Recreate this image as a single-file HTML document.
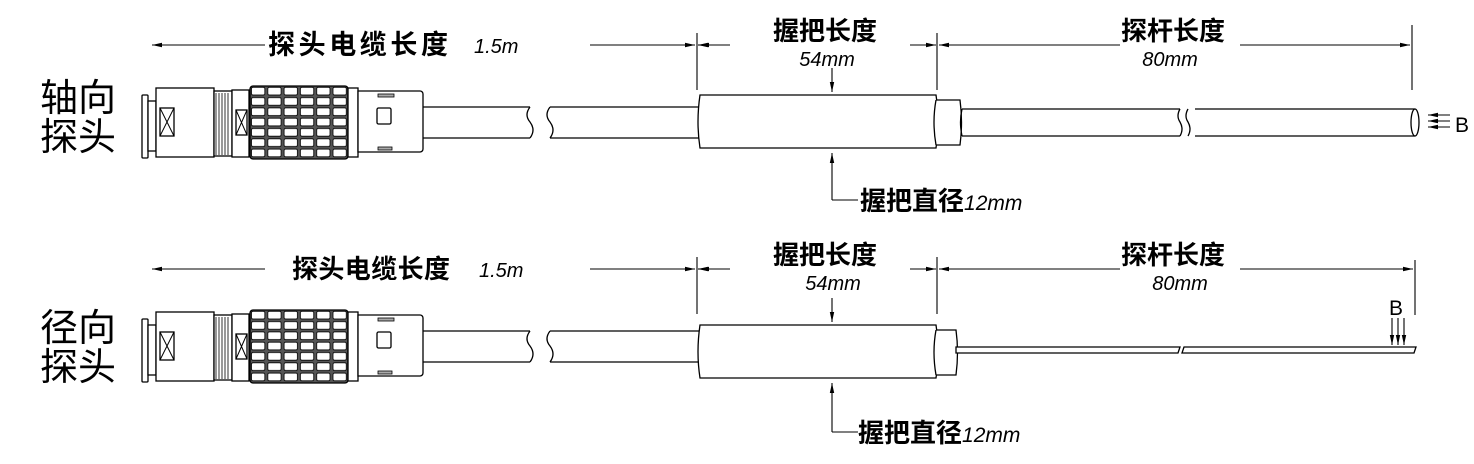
<!DOCTYPE html>
<html><head><meta charset="utf-8"><style>
html,body{margin:0;padding:0;background:#fff;}
svg{display:block}
.t{font-family:"Liberation Sans","Noto Sans CJK SC",sans-serif;}
</style></head><body>
<svg width="1474" height="464" viewBox="0 0 1474 464" xmlns="http://www.w3.org/2000/svg">
<defs>
<pattern id="kn" x="250" y="86" width="16.3" height="10.3" patternUnits="userSpaceOnUse">
<rect width="16.3" height="10.3" fill="#555"/>
<rect x="1.5" y="1.3" width="13.3" height="7.7" rx="1.5" fill="#fff" stroke="#000" stroke-width="0.8"/>
</pattern>
<marker id="ar" markerWidth="10" markerHeight="6" refX="10" refY="3" orient="auto" markerUnits="userSpaceOnUse"><path d="M0,0.8 L10,3 L0,5.2z" fill="#000"/></marker>
<g id="conn" fill="#fff" stroke="#000" stroke-width="1.3">
<rect x="142" y="95" width="6" height="63" rx="1"/>
<rect x="148" y="101" width="8" height="50"/>
<rect x="156" y="88" width="58" height="69"/>
<rect x="160" y="108" width="14" height="28"/>
<path d="M160 108 L174 136 M174 108 L160 136" stroke-width="1"/>
<rect x="214" y="91" width="18" height="65"/>
<path d="M216 93v62M219 93v62M222 93v62M225 93v62M228 93v62" stroke-width="0.8"/>
<rect x="232" y="90" width="17" height="67"/>
<rect x="236" y="110" width="11" height="25"/>
<path d="M236 110 L247 135 M247 110 L236 135" stroke-width="1"/>
<rect x="250" y="86" width="98" height="73" rx="3" fill="url(#kn)"/>
<rect x="348" y="88" width="10" height="69"/>
<path d="M358 91 H420 a3 3 0 0 1 3 3 V149 a3 3 0 0 1 -3 3 H358z"/>
<rect x="377" y="108" width="14" height="16" rx="1.5"/>
<rect x="378" y="94" width="16" height="3" fill="#aaa" stroke-width="0.8"/>
<rect x="378" y="147" width="14" height="3" fill="#aaa" stroke-width="0.8"/>
<path d="M423 107 H530 M423 138 H530" />
<path d="M530 107 q-6 8 0 15 q6 8 0 16" fill="none"/>
<path d="M550 107 q-6 8 0 15 q6 8 0 16" fill="none"/>
<path d="M550 107 H700 M550 138 H700"/>
</g>
</defs>

<!-- ROW 1 -->
<use href="#conn"/>
<g fill="#fff" stroke="#000" stroke-width="1.3">
<path d="M700 95 H936 q4 26 0 53 H700 q-4 -26 0 -53z"/>
<path d="M936 100 H960 q3 22 0 45 H936" />
<path d="M936 100 q-4 22 0 45" fill="none"/>
<path d="M962 109 H1180 M962 136 H1180 M1195 109 H1415 M1195 136 H1415"/>
<path d="M962 109 q-3 13 0 27" fill="none"/>
<path d="M1180 109 q-4 7 0 13 q4 7 0 14 M1188 109 q-4 7 0 13 q4 7 0 14" fill="none"/>
<ellipse cx="1415" cy="122.5" rx="4" ry="13.5"/>
</g>
<g stroke="#000" stroke-width="1.1">
<line x1="1450" y1="115" x2="1428" y2="115" marker-end="url(#ar)"/>
<line x1="1450" y1="121" x2="1428" y2="121" marker-end="url(#ar)"/>
<line x1="1450" y1="127" x2="1428" y2="127" marker-end="url(#ar)"/>
</g>
<text x="1455" y="132" class="t" font-size="21">B</text>
<text x="40" y="111" class="t" font-size="38">轴向</text>
<text x="40" y="150" class="t" font-size="38">探头</text>
<!-- dims row 1 -->
<g stroke="#000" stroke-width="1.1">
<line x1="265" y1="45" x2="152" y2="45" marker-end="url(#ar)"/>
<line x1="590" y1="45" x2="695" y2="45" marker-end="url(#ar)"/>
<line x1="697" y1="33" x2="697" y2="90"/>
<line x1="705" y1="45" x2="698" y2="45" marker-end="url(#ar)"/>
<line x1="730" y1="45" x2="699" y2="45" marker-end="url(#ar)"/>
<line x1="910" y1="45" x2="936" y2="45" marker-end="url(#ar)"/>
<line x1="937" y1="33" x2="937" y2="90"/>
<line x1="1120" y1="45" x2="939" y2="45" marker-end="url(#ar)"/>
<line x1="1240" y1="45" x2="1410" y2="45" marker-end="url(#ar)"/>
<line x1="1412" y1="25" x2="1412" y2="90"/>
<line x1="832" y1="68" x2="832" y2="92" marker-end="url(#ar)"/>
<line x1="832" y1="200" x2="832" y2="153" marker-end="url(#ar)"/>
<line x1="832" y1="200" x2="858" y2="200"/>
</g>
<text x="268" y="54" class="t" font-size="27" font-weight="bold" textLength="180">探头电缆长度</text>
<text x="474" y="53" class="t" font-size="20" font-style="italic">1.5m</text>
<text x="825" y="40" class="t" font-size="26" font-weight="bold" text-anchor="middle">握把长度</text>
<text x="827" y="66" class="t" font-size="20" font-style="italic" text-anchor="middle">54mm</text>
<text x="1173" y="40" class="t" font-size="26" font-weight="bold" text-anchor="middle">探杆长度</text>
<text x="1170" y="66" class="t" font-size="20" font-style="italic" text-anchor="middle">80mm</text>
<text x="860" y="210" class="t" font-size="26" font-weight="bold">握把直径<tspan font-weight="normal" font-style="italic" font-size="21">12mm</tspan></text>

<!-- ROW 2 -->
<use href="#conn" transform="translate(0,224)"/>
<g fill="#fff" stroke="#000" stroke-width="1.3">
<path d="M700 325 H936 q4 26 0 53 H700 q-4 -26 0 -53z"/>
<path d="M936 330 H956 q3 22 0 45 H936"/>
<path d="M936 330 q-4 22 0 45" fill="none"/>
<path d="M956 347 H1180 l-2 6 H956z"/>
<path d="M1184 347 H1416 l-2 6 H1182z"/>
</g>
<g stroke="#000" stroke-width="1.1">
<line x1="1392" y1="318" x2="1392" y2="345" marker-end="url(#ar)"/>
<line x1="1398" y1="318" x2="1398" y2="345" marker-end="url(#ar)"/>
<line x1="1404" y1="318" x2="1404" y2="345" marker-end="url(#ar)"/>
</g>
<text x="1389" y="315" class="t" font-size="21">B</text>
<text x="40" y="341" class="t" font-size="38">径向</text>
<text x="40" y="380" class="t" font-size="38">探头</text>
<g stroke="#000" stroke-width="1.1">
<line x1="265" y1="269" x2="152" y2="269" marker-end="url(#ar)"/>
<line x1="590" y1="269" x2="695" y2="269" marker-end="url(#ar)"/>
<line x1="697" y1="257" x2="697" y2="314"/>
<line x1="705" y1="269" x2="698" y2="269" marker-end="url(#ar)"/>
<line x1="730" y1="269" x2="699" y2="269" marker-end="url(#ar)"/>
<line x1="910" y1="269" x2="936" y2="269" marker-end="url(#ar)"/>
<line x1="937" y1="257" x2="937" y2="314"/>
<line x1="1120" y1="269" x2="939" y2="269" marker-end="url(#ar)"/>
<line x1="1240" y1="269" x2="1413" y2="269" marker-end="url(#ar)"/>
<line x1="1415" y1="260" x2="1415" y2="315"/>
<line x1="832" y1="298" x2="832" y2="322" marker-end="url(#ar)"/>
<line x1="832" y1="432" x2="832" y2="383" marker-end="url(#ar)"/>
<line x1="832" y1="432" x2="858" y2="432"/>
</g>
<text x="292" y="278" class="t" font-size="26" font-weight="bold" textLength="158">探头电缆长度</text>
<text x="479" y="277" class="t" font-size="20" font-style="italic">1.5m</text>
<text x="825" y="264" class="t" font-size="26" font-weight="bold" text-anchor="middle">握把长度</text>
<text x="833" y="290" class="t" font-size="20" font-style="italic" text-anchor="middle">54mm</text>
<text x="1173" y="264" class="t" font-size="26" font-weight="bold" text-anchor="middle">探杆长度</text>
<text x="1180" y="290" class="t" font-size="20" font-style="italic" text-anchor="middle">80mm</text>
<text x="858" y="442" class="t" font-size="26" font-weight="bold">握把直径<tspan font-weight="normal" font-style="italic" font-size="21">12mm</tspan></text>
</svg>
</body></html>
